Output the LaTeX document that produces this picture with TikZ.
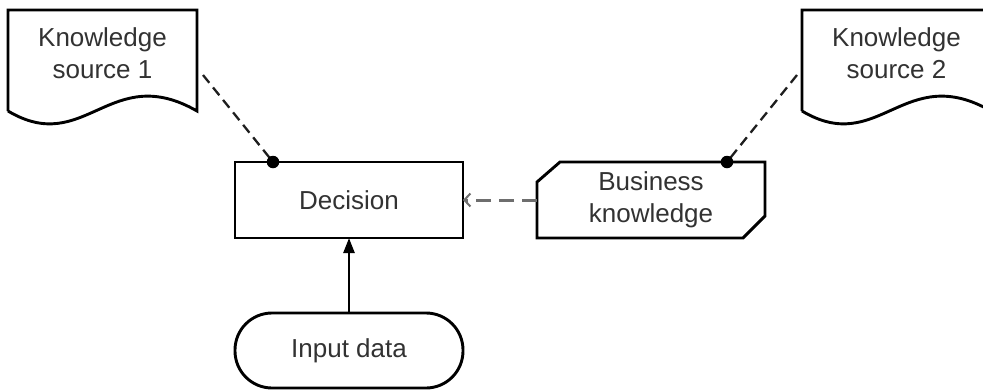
\documentclass[tikz,border=0pt]{standalone}
\usepackage{fontspec}
\setmainfont{Liberation Sans}
\usetikzlibrary{calc,arrows.meta}
\definecolor{txtc}{RGB}{50,50,50}
\definecolor{dashc}{RGB}{30,30,30}
\definecolor{grayc}{RGB}{110,110,110}
\tikzset{
  box/.style={rectangle, draw=none, minimum width=#1, minimum height=76pt, inner sep=0pt, outer sep=0pt},
  box/.default=228pt,
  outline/.style={draw=black, line width=2.9pt, line join=miter},
  lbl/.style={text=txtc, align=center, font=\fontsize{26}{32}\selectfont, inner sep=0pt},
  kdash/.style={draw=dashc, line width=2.3pt, dash pattern=on 10pt off 6pt},
  idash/.style={draw=grayc, line width=3pt, dash pattern=on 15pt off 8pt},
  dotc/.style={circle, fill=black, minimum size=12.5pt, inner sep=0pt},
}
\begin{document}
\begin{tikzpicture}[x=1pt,y=-1pt]
\useasboundingbox (0,0) rectangle (983,389);
\clip (0,0) rectangle (983,389);
\fill[white] (0,0) rectangle (983,389);

% nodes (invisible frames)
\node[box=189pt, minimum height=101pt] (ks1) at (102.5,60.5) {};
\node[box=189pt, minimum height=101pt] (ks2) at (896.5,60.5) {};
\node[box] (dec) at (349,200) {};
\node[box] (bk) at (651,200) {};
\node[box, minimum height=75pt] (inp) at (349,350.5) {};

% shapes
\draw[outline] (ks1.south west) -- (ks1.north west) -- (ks1.north east) -- (ks1.south east)
  .. controls ($(ks1.south west)+(102,-50)$) and ($(ks1.south west)+(77,46)$) .. (ks1.south west);
\draw[outline] (ks2.south west) -- (ks2.north west) -- (ks2.north east) -- (ks2.south east)
  .. controls ($(ks2.south west)+(102,-50)$) and ($(ks2.south west)+(77,46)$) .. (ks2.south west);
\draw[outline] (dec.north west) rectangle (dec.south east);
\draw[outline] ($(bk.north west)+(23,0)$) -- (bk.north east) -- ($(bk.south east)+(0,-22)$)
  -- ($(bk.south east)+(-22,0)$) -- (bk.south west) -- ($(bk.north west)+(0,20)$) -- cycle;
\draw[outline, rounded corners=37pt] (inp.north west) rectangle (inp.south east);

% labels
\node[lbl] (ks1t) at (102.5,53) {Knowledge\\source 1};
\node[lbl] (ks2t) at (896.5,53) {Knowledge\\source 2};
\node[lbl] (dect) at (dec.center) {Decision};
\node[lbl] (bkt) at (bk.center) {Business\\knowledge};
\node[lbl] (inpt) at (inp.center) {Input data};

% connectors
\coordinate (d1) at ($(dec.north)+(-76,0)$);
\coordinate (d2) at ($(bk.north)+(76,0)$);
\draw[kdash] ($(ks1.east)+(6,14.5)$) -- (d1);
\draw[kdash] ($(ks2.west)+(-5,14.5)$) -- (d2);
\node[dotc] (dot1) at (d1) {};
\node[dotc] (dot2) at (d2) {};
\draw[idash, -{Straight Barb[length=6pt,width=13pt,line width=2pt]}] (bk.west) -- (dec.east);
\draw[line width=2.4pt, -{Triangle[length=15pt,width=11pt]}] (inp.north) -- (dec.south);
\end{tikzpicture}
\end{document}
